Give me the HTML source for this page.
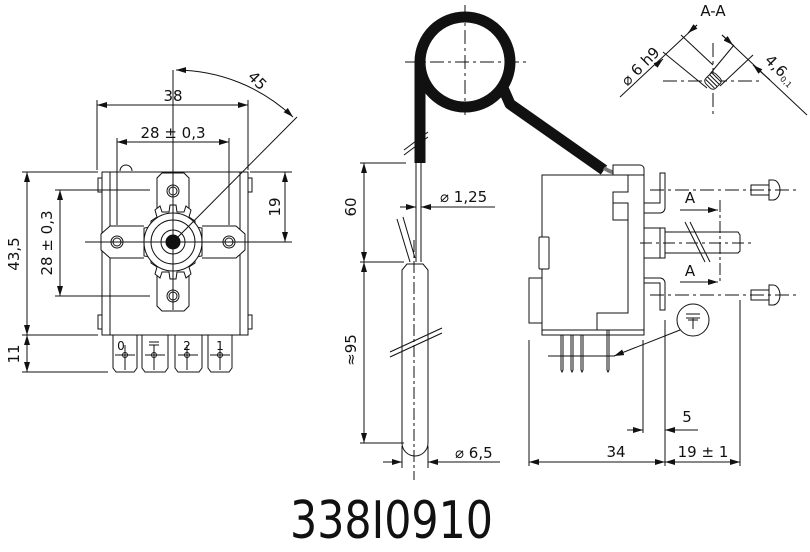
<!DOCTYPE html>
<html><head><meta charset="utf-8"><style>
html,body{margin:0;padding:0;background:#fff;}
svg{display:block}
text{font-family:"DejaVu Sans","Liberation Sans",sans-serif;fill:#111}
</style></head><body>
<svg width="810" height="552" viewBox="0 0 810 552" xmlns="http://www.w3.org/2000/svg">
<defs>
<marker id="a" viewBox="0 0 10 6" refX="10" refY="3" markerWidth="10" markerHeight="6" orient="auto-start-reverse" markerUnits="userSpaceOnUse"><path d="M0,0L10,3L0,6z" fill="#111"/></marker>
</defs>
<g stroke="#111" stroke-width="1" fill="none">
<!-- LEFT VIEW -->
<rect x="102" y="172" width="146" height="163" fill="#fff"/>
<line x1="110" y1="172" x2="110" y2="335"/><line x1="240" y1="172" x2="240" y2="335"/>
<rect x="98" y="178" width="4" height="14"/><rect x="248" y="178" width="4" height="14"/>
<rect x="98" y="315" width="4" height="14"/><rect x="248" y="315" width="4" height="14"/>
<path d="M120,171 a6,6 0 0 1 12,0"/>
<path d="M113,335 V368 l3,4 h18 l3,-4 V335"/>
<path d="M142,335 V368 l3,4 h20 l3,-4 V335"/>
<path d="M175,335 V368 l3,4 h21 l3,-4 V335"/>
<path d="M208,335 V368 l3,4 h18 l3,-4 V335"/>
<line x1="104" y1="335" x2="246" y2="335"/>
<path d="M157,216 V178 l5,-5 h22 l5,5 V216" fill="#fff"/>
<path d="M157,268 V306 l5,5 h22 l5,-5 V268" fill="#fff"/>
<path d="M144,226 H110 l-9,8 v16 l9,8 H144" fill="#fff"/>
<path d="M202,226 H236 l9,8 v16 l-9,8 H202" fill="#fff"/>
<polygon fill="#fff" points="170,205 176,205 177,212 184,212 186,206 191,210 189,217 195,221 195,227 202,228 202,256 195,257 195,263 189,267 191,274 186,278 184,272 177,272 176,279 170,279 169,272 162,272 160,278 155,274 157,267 151,263 151,257 144,256 144,228 151,227 151,221 157,217 155,210 160,206 162,212 169,212"/>
<circle cx="173" cy="242" r="29" fill="#fff"/>
<circle cx="173" cy="242" r="22"/>
<circle cx="173" cy="242" r="12"/>
<circle cx="173" cy="242" r="7" fill="#111"/>
<circle cx="173" cy="191" r="6"/><circle cx="173" cy="191" r="4"/>
<circle cx="173" cy="296" r="6"/><circle cx="173" cy="296" r="4"/>
<circle cx="117" cy="242" r="6"/><circle cx="117" cy="242" r="4"/>
<circle cx="229" cy="242" r="6"/><circle cx="229" cy="242" r="4"/>
<circle cx="125" cy="355" r="2.5"/><circle cx="154" cy="355" r="2.5"/><circle cx="187" cy="355" r="2.5"/><circle cx="220" cy="355" r="2.5"/>
<line x1="115" y1="355" x2="135" y2="355"/><line x1="145" y1="355" x2="165" y2="355"/><line x1="178" y1="355" x2="198" y2="355"/><line x1="210" y1="355" x2="230" y2="355"/>
<line x1="125" y1="345" x2="125" y2="370"/><line x1="154" y1="345" x2="154" y2="370"/><line x1="187" y1="345" x2="187" y2="370"/><line x1="220" y1="345" x2="220" y2="370"/>
<line x1="85" y1="242" x2="290" y2="242"/>
<line x1="173" y1="70" x2="173" y2="310"/>
<line x1="173" y1="242" x2="297" y2="117"/>
<path d="M176,70 A172,172 0 0 1 293,117" marker-start="url(#a)" marker-end="url(#a)"/>
<line x1="97" y1="100" x2="97" y2="170"/><line x1="248" y1="100" x2="248" y2="170"/>
<line x1="97" y1="105" x2="248" y2="105" marker-start="url(#a)" marker-end="url(#a)"/>
<line x1="117" y1="138" x2="117" y2="225"/><line x1="229" y1="138" x2="229" y2="225"/>
<line x1="117" y1="142" x2="229" y2="142" marker-start="url(#a)" marker-end="url(#a)"/>
<line x1="22" y1="172" x2="98" y2="172"/><line x1="22" y1="335" x2="98" y2="335"/><line x1="22" y1="372" x2="108" y2="372"/>
<line x1="27" y1="172" x2="27" y2="335" marker-start="url(#a)" marker-end="url(#a)"/>
<line x1="27" y1="335" x2="27" y2="372" marker-start="url(#a)" marker-end="url(#a)"/>
<line x1="55" y1="190" x2="150" y2="190"/><line x1="55" y1="296" x2="150" y2="296"/>
<line x1="60" y1="190" x2="60" y2="296" marker-start="url(#a)" marker-end="url(#a)"/>
<line x1="250" y1="172" x2="292" y2="172"/><line x1="250" y1="242" x2="292" y2="242"/>
<line x1="285" y1="172" x2="285" y2="242" marker-start="url(#a)" marker-end="url(#a)"/>

<!-- MIDDLE VIEW -->
<circle cx="465" cy="62" r="45" stroke-width="11"/>
<path d="M420,163 V62" stroke-width="11"/>
<path d="M503,88 L510,104 L604,170" stroke-width="11" stroke-linejoin="round"/>
<line x1="405" y1="62" x2="530" y2="62" stroke-dasharray="14,4,3,4"/>
<line x1="465" y1="5" x2="465" y2="115" stroke-dasharray="14,4,3,4"/>
<path d="M604,168 Q610,172 613,172" stroke-width="4" stroke="#777"/>
<line x1="404" y1="150" x2="428" y2="132"/><line x1="404" y1="155" x2="428" y2="137"/>
<line x1="416" y1="163" x2="416" y2="262"/><line x1="421" y1="163" x2="421" y2="262"/>
<path d="M397,219 L410,262 M403,217 L415,258"/>
<path d="M402,443 V270 L407,264 H423 L428,270 V443 A13,13 0 0 1 402,443Z" fill="#fff"/>
<line x1="414" y1="240" x2="414" y2="480" stroke-dasharray="12,3,3,3"/>
<line x1="390" y1="352" x2="442" y2="328"/><line x1="390" y1="357" x2="442" y2="333"/>
<line x1="360" y1="163" x2="406" y2="163"/><line x1="360" y1="262" x2="404" y2="262"/><line x1="360" y1="443" x2="404" y2="443"/>
<line x1="364" y1="163" x2="364" y2="262" marker-start="url(#a)" marker-end="url(#a)"/>
<line x1="364" y1="262" x2="364" y2="443" marker-start="url(#a)" marker-end="url(#a)"/>
<line x1="400" y1="207" x2="416" y2="207" marker-end="url(#a)"/><line x1="495" y1="207" x2="421" y2="207" marker-end="url(#a)"/>
<line x1="383" y1="462" x2="402" y2="462" marker-end="url(#a)"/><line x1="500" y1="462" x2="428" y2="462" marker-end="url(#a)"/>
<line x1="402" y1="446" x2="402" y2="468"/><line x1="428" y1="446" x2="428" y2="468"/>

<!-- RIGHT VIEW -->
<rect x="529" y="278" width="13" height="45"/>
<rect x="542" y="175" width="102" height="155" fill="#fff"/>
<rect x="539" y="237" width="10" height="32" rx="1" fill="#fff"/>
<rect x="542" y="330" width="102" height="5"/>
<path d="M613,175 V165 H640 a4,4 0 0 1 4,4 V175"/>
<path d="M628,175 V192 H613 V203 H628 V313 H597 V330"/>
<path d="M613,203 V220 H628"/>
<path d="M644,203 H660 V173 H665 V208 a5,5 0 0 1 -5,5 H644"/>
<path d="M644,278 H660 a5,5 0 0 1 5,5 V310 H660 V283 H644"/>
<rect x="644" y="228" width="16" height="30"/>
<rect x="660" y="228" width="5" height="30"/>
<path d="M665,232 H738 l2,3 V251 l-2,2 H665"/>
<line x1="690" y1="222" x2="710" y2="262"/><line x1="685" y1="222" x2="705" y2="262"/>
<line x1="640" y1="243" x2="755" y2="243" stroke-dasharray="12,4,3,4"/>
<line x1="720" y1="200" x2="720" y2="284" stroke-dasharray="12,3,3,3"/>
<line x1="680" y1="210" x2="718" y2="210" marker-end="url(#a)"/>
<line x1="680" y1="282" x2="718" y2="282" marker-end="url(#a)"/>
<line x1="650" y1="190" x2="797" y2="190" stroke-dasharray="14,4,3,4"/>
<line x1="650" y1="295" x2="797" y2="295" stroke-dasharray="14,4,3,4"/>
<rect x="751" y="185" width="18" height="10"/><path d="M769,180 h4 a7,10 0 0 1 0,20 h-4z"/>
<rect x="751" y="290" width="18" height="10"/><path d="M769,285 h4 a7,10 0 0 1 0,20 h-4z"/>
<path d="M561,335 V370 l1,2 l1,-2 V335 M571,335 V370 l1,2 l1,-2 V335 M581,335 V370 l1,2 l1,-2 V335 M607,330 V370 l1,2 l1,-2 V330"/>
<line x1="548" y1="356" x2="615" y2="356"/>
<circle cx="693" cy="320" r="16"/>
<line x1="680" y1="330" x2="614" y2="356" marker-end="url(#a)"/>
<line x1="686" y1="314" x2="700" y2="314"/><line x1="686" y1="318" x2="700" y2="318"/><line x1="693" y1="318" x2="693" y2="329"/><line x1="688" y1="320" x2="698" y2="320"/>
<line x1="529" y1="340" x2="529" y2="466"/>
<line x1="643" y1="340" x2="643" y2="433"/>
<line x1="665" y1="320" x2="665" y2="466"/>
<line x1="740" y1="300" x2="740" y2="466"/>
<line x1="529" y1="462" x2="665" y2="462" marker-start="url(#a)" marker-end="url(#a)"/>
<line x1="665" y1="462" x2="740" y2="462" marker-start="url(#a)" marker-end="url(#a)"/>
<line x1="627" y1="430" x2="643" y2="430" marker-end="url(#a)"/>
<line x1="698" y1="430" x2="665" y2="430" marker-end="url(#a)"/>

<!-- A-A -->
<line x1="663" y1="81" x2="762" y2="81" stroke-dasharray="14,4,3,4"/>
<line x1="713" y1="43" x2="713" y2="116" stroke-dasharray="14,4,3,4"/>
<g transform="rotate(-45 713 81)"><rect x="706" y="74" width="14" height="14" rx="4" fill="#fff"/>
<path d="M709,75V87M712,74V88M715,74V88M718,75V87"/></g>
<line x1="620" y1="97" x2="697" y2="25"/>
<line x1="663" y1="52" x2="707" y2="88"/>
<line x1="681" y1="35" x2="713" y2="65"/>
<line x1="720" y1="86" x2="753" y2="55"/>
<line x1="710" y1="74" x2="734" y2="45"/>
<line x1="722" y1="35" x2="807" y2="115"/>
<line x1="655" y1="66" x2="663" y2="59" marker-end="url(#a)"/>
<line x1="697" y1="25" x2="688" y2="33" marker-end="url(#a)"/>
<line x1="722" y1="35" x2="733" y2="45" marker-end="url(#a)"/>
<line x1="770" y1="80" x2="753" y2="65" marker-end="url(#a)"/>
</g>
<g font-size="15">
<text x="173" y="101" text-anchor="middle">38</text>
<text x="173" y="138" text-anchor="middle">28 ± 0,3</text>
<text x="258" y="86" text-anchor="middle" transform="rotate(45 258 80)">45</text>
<text transform="translate(19,254) rotate(-90)" text-anchor="middle">43,5</text>
<text transform="translate(19,354) rotate(-90)" text-anchor="middle">11</text>
<text transform="translate(52,243) rotate(-90)" text-anchor="middle">28 ± 0,3</text>
<text transform="translate(280,207) rotate(-90)" text-anchor="middle">19</text>
<text transform="translate(356,207) rotate(-90)" text-anchor="middle">60</text>
<text transform="translate(356,350) rotate(-90)" text-anchor="middle">≈95</text>
<text x="440" y="202">⌀ 1,25</text>
<text x="455" y="458">⌀ 6,5</text>
<text x="616" y="457" text-anchor="middle">34</text>
<text x="703" y="457" text-anchor="middle">19 ± 1</text>
<text x="687" y="422" text-anchor="middle">5</text>
<text x="690" y="203" text-anchor="middle">A</text>
<text x="690" y="276" text-anchor="middle">A</text>
<text x="713" y="16" text-anchor="middle">A-A</text>
<text transform="translate(644,70) rotate(-45)" text-anchor="middle">⌀ 6 h9</text>
<text transform="translate(777,74) rotate(45)" text-anchor="middle">4,6<tspan font-size="8" dy="2">0,1</tspan></text>
</g>
<g font-size="12">
<text x="121" y="350" text-anchor="middle">0</text>
<text x="187" y="350" text-anchor="middle">2</text>
<text x="220" y="350" text-anchor="middle">1</text>
</g>
<path d="M149,342h10M149,345h10M154,345v5" stroke="#111" fill="none"/>
<text x="290" y="538" font-size="52" textLength="203" lengthAdjust="spacingAndGlyphs">338I0910</text>
</svg>
</body></html>
